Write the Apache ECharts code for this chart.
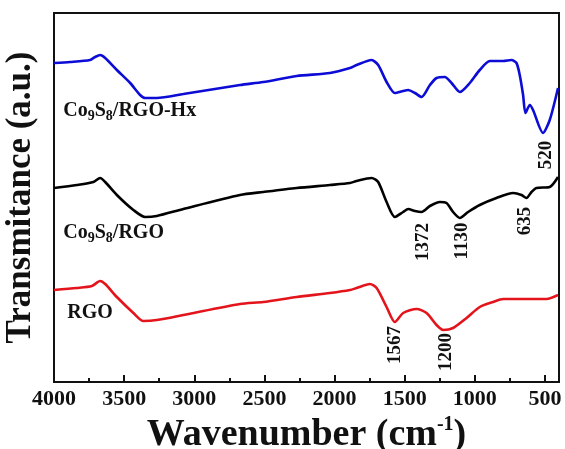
<!DOCTYPE html>
<html>
<head>
<meta charset="utf-8">
<script src="https://cdn.jsdelivr.net/npm/echarts@6/dist/echarts.min.js"></script>
<style>html,body{margin:0;padding:0;background:#fff;}#c{width:565px;height:449px;}</style>
</head>
<body>
<div id="c"></div>
<script>
// Wavenumber (cm^-1) and transmittance (a.u., offset traces)
var blueX = [4000,3885,3743,3707,3671,3635,3552,3457,3386,3350,3267,3078,2674,2508,2270,2033,1890,1843,1736,1689,1629,1570,1511,1475,1427,1380,1320,1273,1214,1166,1107,1036,965,893,798,739,703,680,656,639,608,585,514,466,407];
var blueY = [319,320,322,325,327,324,312,299,287,284,284,288,297,300,306,309,314,317,322,317,300,289,291,292,289,285,297,304,305,299,290,299,312,321,321,322,319,307,287,269,277,272,249,262,294];

var blackX = [4000,3837,3719,3671,3635,3552,3434,3350,3267,3078,2674,2508,2270,2033,1890,1843,1736,1689,1629,1570,1511,1475,1427,1380,1320,1249,1202,1155,1107,1048,965,846,727,667,632,596,561,466,407];
var blackY = [194,197,200,204,200,187,172,165,166,173,187,190,194,197,199,201,204,200,180,165,170,173,171,170,176,180,179,170,164,170,177,184,189,187,184,190,194,195,205];

var redX = [4000,3837,3730,3671,3635,3552,3434,3363,3267,3078,2674,2508,2270,2033,1890,1843,1748,1700,1629,1570,1511,1415,1344,1273,1226,1155,1059,965,870,798,632,489,407];
var redY = [92,94,96,101,98,85,69,61,62,67,78,80,85,89,92,94,98,94,75,60,69,73,69,57,52,54,64,75,80,83,83,83,87];

var seriesNames = ['Co{s|9}S{s|8}/RGO-Hx', 'Co{s|9}S{s|8}/RGO', 'RGO'];
var nameAnchorX = [3934, 3934, 3906];
var nameAnchorY = [271, 149, 69];

var bluePeaks = ['520'];   var bluePeakX = [489];       var bluePeakY = [227];
var blackPeaks = ['1372','1130','635']; var blackPeakX = [1370,1093,644]; var blackPeakY = [140,141,161];
var redPeaks = ['1567','1200']; var redPeakX = [1570,1202]; var redPeakY = [37,30];

var xMajorTicks = [4000,3500,3000,2500,2000,1500,1000,500];
var xMinorTicks = [3750,3250,2750,2250,1750,1250,750];

var FONT = "'Liberation Serif','Times New Roman',serif";

function pairs(xs, ys){ return xs.map(function(x,i){ return [x, ys[i]]; }); }
function peakMarks(texts, xs, ys){
  return texts.map(function(t,i){ return { name: t, coord: [xs[i], ys[i]] }; });
}

var subRich = {
  s: { fontSize: 14, fontWeight: 'bold', fontFamily: FONT, color: '#111', lineHeight: 14, verticalAlign: 'bottom' }
};

function nameMark(i){
  return {
    symbol: 'rect', symbolSize: 0, silent: true, animation: false,
    label: { show: true, position: 'right', distance: 0, formatter: '{b}',
      rich: subRich, fontSize: 20, fontWeight: 'bold', fontFamily: FONT, color: '#111', lineHeight: 24 },
    data: [{ name: seriesNames[i], coord: [nameAnchorX[i], nameAnchorY[i]] }]
  };
}

function peakLabelCfg(){
  return { show: true, position: 'inside', rotate: 90, formatter: '{b}',
           fontSize: 19, fontWeight: 'bold', fontFamily: FONT, color: '#111' };
}

var colors = ['#0c0cd6', '#000000', '#e3141c'];
var xs = [blueX, blackX, redX], ys = [blueY, blackY, redY];
var peaks = [[bluePeaks,bluePeakX,bluePeakY],[blackPeaks,blackPeakX,blackPeakY],[redPeaks,redPeakX,redPeakY]];

var series = [];
for (var i = 0; i < 3; i++) {
  series.push({
    type: 'line', xAxisIndex: 0, yAxisIndex: 0,
    data: pairs(xs[i], ys[i]), smooth: 0.25, showSymbol: false, symbol: 'none',
    lineStyle: { color: colors[i], width: 2.6 }, animation: false,
    markPoint: {
      symbol: 'rect', symbolSize: 0, silent: true, animation: false,
      label: peakLabelCfg(),
      data: peakMarks(peaks[i][0], peaks[i][1], peaks[i][2])
    }
  });
  series.push({
    type: 'line', data: [], xAxisIndex: 0, yAxisIndex: 0, animation: false,
    markPoint: nameMark(i)
  });
}

var chart = echarts.init(document.getElementById('c'), null, { renderer: 'canvas' });
chart.setOption({
  backgroundColor: '#fff',
  animation: false,
  grid: { left: 54, right: 6, top: 13, bottom: 67, outerBoundsMode: 'none', containLabel: false,
          show: true, borderColor: '#111', borderWidth: 2, backgroundColor: 'transparent' },
  xAxis: [{
    type: 'value', inverse: true, min: 400, max: 4000,
    axisLine: { show: true, lineStyle: { color: '#111', width: 2 } },
    axisTick: { show: true, inside: true, length: 7, lineStyle: { color: '#111', width: 2 }, customValues: xMajorTicks },
    axisLabel: { show: true, margin: 6, fontSize: 22, fontWeight: 'bold', fontFamily: FONT, color: '#111',
                 customValues: xMajorTicks, formatter: function(v){ return String(v); } },
    splitLine: { show: false },
    name: 'Wavenumber (cm{sup|-1})', nameLocation: 'middle', nameGap: 27,
    nameTextStyle: { fontSize: 38, fontWeight: 'bold', fontFamily: FONT, color: '#111',
      rich: { sup: { fontSize: 20, fontWeight: 'bold', fontFamily: FONT, color: '#111', verticalAlign: 'top', lineHeight: 40 } } }
  }, {
    type: 'value', inverse: true, min: 400, max: 4000, position: 'bottom',
    axisLine: { show: false },
    axisTick: { show: true, inside: true, length: 4, lineStyle: { color: '#111', width: 2 }, customValues: xMinorTicks },
    axisLabel: { show: false },
    splitLine: { show: false }
  }],
  yAxis: [{
    type: 'value', min: 0, max: 369,
    axisLine: { show: true, lineStyle: { color: '#111', width: 2 } },
    axisTick: { show: false }, axisLabel: { show: false }, splitLine: { show: false },
    name: 'Transmitance (a.u.)', nameLocation: 'middle', nameRotate: 90, nameGap: 16,
    nameTextStyle: { fontSize: 35, fontWeight: 'bold', fontFamily: FONT, color: '#111' }
  }],
  series: series
});
</script>
</body>
</html>
